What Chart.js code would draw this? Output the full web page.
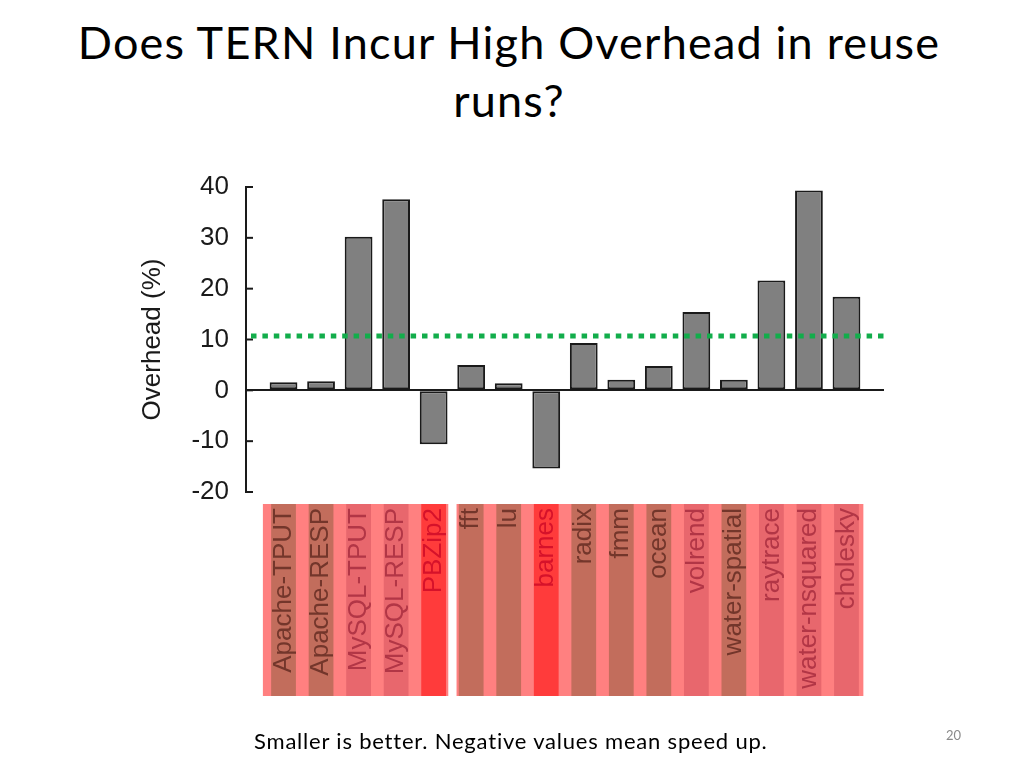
<!DOCTYPE html>
<html>
<head>
<meta charset="utf-8">
<title>Does TERN Incur High Overhead in reuse runs?</title>
<script src="https://cdn.jsdelivr.net/npm/chart.js@4.4.1/dist/chart.umd.min.js"></script>
<style>
  html, body { margin: 0; padding: 0; background: #fff; }
  body { width: 1024px; height: 768px; position: relative; overflow: hidden; }
  #chart { position: absolute; left: 0; top: 0; }
  .title {
    position: absolute; left: 0; top: 13px; width: 1018px;
    font-family: Lato, sans-serif; font-size: 45px; line-height: 58px;
    letter-spacing: 1.2px; text-align: center; color: #000;
  }
  .note {
    position: absolute; left: 254px; top: 727px;
    font-family: Lato, sans-serif; font-size: 22px; letter-spacing: 0.8px; color: #000;
  }
  .page {
    position: absolute; left: 946px; top: 727px;
    font-family: Lato, sans-serif; font-size: 13px; color: #8a8a8a;
  }
</style>
</head>
<body>
<div class="title">Does TERN Incur High Overhead in reuse<br>runs?</div>
<canvas id="chart" width="1024" height="768"></canvas>
<div class="note">Smaller is better. Negative values mean speed up.</div>
<div class="page">20</div>
<script>
const categories = ['Apache-TPUT', 'Apache-RESP', 'MySQL-TPUT', 'MySQL-RESP', 'PBZip2',
  'fft', 'lu', 'barnes', 'radix', 'fmm', 'ocean', 'volrend', 'water-spatial',
  'raytrace', 'water-nsquared', 'cholesky'];
const overhead = [1.6, 1.8, 30.2, 37.6, -10.6, 5.0, 1.4, -15.4, 9.3, 2.1, 4.8, 15.4, 2.1, 21.6, 39.3, 18.4];
const averageOverhead = 10.7;
const yTicks = [-20, -10, 0, 10, 20, 30, 40];

// label highlight: red = speed up, pink = above the average, brown = below it
function kind(i) {
  if (overhead[i] < 0) return 'red';
  if (overhead[i] > averageOverhead) return 'pink';
  return 'brown';
}
const stripeColor = { red: '#ff3b3b', pink: '#e8676d', brown: '#c26d5c' };
const textColor = { red: '#d6122a', pink: '#b23646', brown: '#73362b' };

Chart.defaults.font.family = '"Liberation Sans", Arial, sans-serif';
Chart.defaults.color = '#1a1a1a';

const slideBits = {
  id: 'slideBits',
  beforeDraw(chart) {
    const { ctx, chartArea } = chart;
    const x = chart.scales.x;
    const top = chartArea.bottom + 12;
    const h = 192;
    ctx.save();
    ctx.fillStyle = '#ff8080';
    ctx.fillRect(x.getPixelForValue(-0.55), top, x.getPixelForValue(15.45) - x.getPixelForValue(-0.55), h);
    // white gap between the server apps and SPLASH-2
    ctx.fillStyle = '#fff';
    ctx.fillRect(x.getPixelForValue(4.39), top, x.getPixelForValue(4.61) - x.getPixelForValue(4.39), h);
    categories.forEach((c, i) => {
      ctx.fillStyle = stripeColor[kind(i)];
      const l = x.getPixelForValue(i - 0.33);
      const r = x.getPixelForValue(i + 0.33);
      ctx.fillRect(l, top, r - l, h);
    });
    ctx.restore();
  },
  afterDatasetsDraw(chart) {
    const { ctx, chartArea } = chart;
    const y = chart.scales.y;
    ctx.save();
    // inward tick marks
    ctx.strokeStyle = '#1a1a1a';
    ctx.lineWidth = 2;
    yTicks.forEach(v => {
      const py = y.getPixelForValue(v);
      ctx.beginPath();
      ctx.moveTo(chartArea.left, py);
      ctx.lineTo(chartArea.left + 7, py);
      ctx.stroke();
    });
    // average overhead
    const py = y.getPixelForValue(averageOverhead);
    ctx.strokeStyle = '#12ad4b';
    ctx.lineWidth = 5;
    ctx.setLineDash([5.5, 5.9]);
    ctx.beginPath();
    ctx.moveTo(chartArea.left + 5, py);
    ctx.lineTo(chartArea.right + 4, py);
    ctx.stroke();
    ctx.restore();
  }
};

new Chart(document.getElementById('chart'), {
  type: 'bar',
  data: {
    datasets: [{
      label: 'Overhead (%)',
      data: overhead.map((v, i) => ({ x: i, y: v })),
      backgroundColor: '#808080',
      borderColor: '#1a1a1a',
      borderWidth: 2,
      borderSkipped: false,
      barPercentage: 0.74,
      categoryPercentage: 1
    }]
  },
  options: {
    responsive: false,
    animation: false,
    layout: { padding: { left: 130, top: 187, right: 140, bottom: 46 } },
    plugins: {
      legend: { display: false },
      tooltip: { enabled: false }
    },
    scales: {
      x: {
        type: 'linear',
        offset: false,
        min: -1,
        max: 16,
        grid: { display: false },
        border: { display: false },
        afterBuildTicks: (scale) => { scale.ticks = categories.map((c, i) => ({ value: i })); },
        afterFit: (scale) => { scale.height = 230; },
        ticks: {
          autoSkip: false,
          minRotation: 90,
          maxRotation: 90,
          padding: 8,
          font: { size: 26 },
          color: (ctx) => textColor[kind(ctx.index)],
          callback: (value) => categories[value]
        }
      },
      y: {
        min: -20,
        max: 40,
        afterBuildTicks: (scale) => { scale.ticks = yTicks.map(v => ({ value: v })); },
        afterFit: (scale) => { scale.width = 116; },
        border: { display: true, color: '#1a1a1a', width: 2 },
        grid: {
          drawTicks: false,
          lineWidth: 2,
          color: (ctx) => ctx.tick && ctx.tick.value === 0 ? '#1a1a1a' : 'rgba(0,0,0,0)'
        },
        ticks: { padding: 17, font: { size: 26 }, color: '#1a1a1a' },
        title: {
          display: true,
          text: 'Overhead (%)',
          font: { size: 26 },
          color: '#1a1a1a',
          padding: { top: 7, bottom: 0 }
        }
      }
    }
  },
  plugins: [slideBits]
});
</script>
</body>
</html>
